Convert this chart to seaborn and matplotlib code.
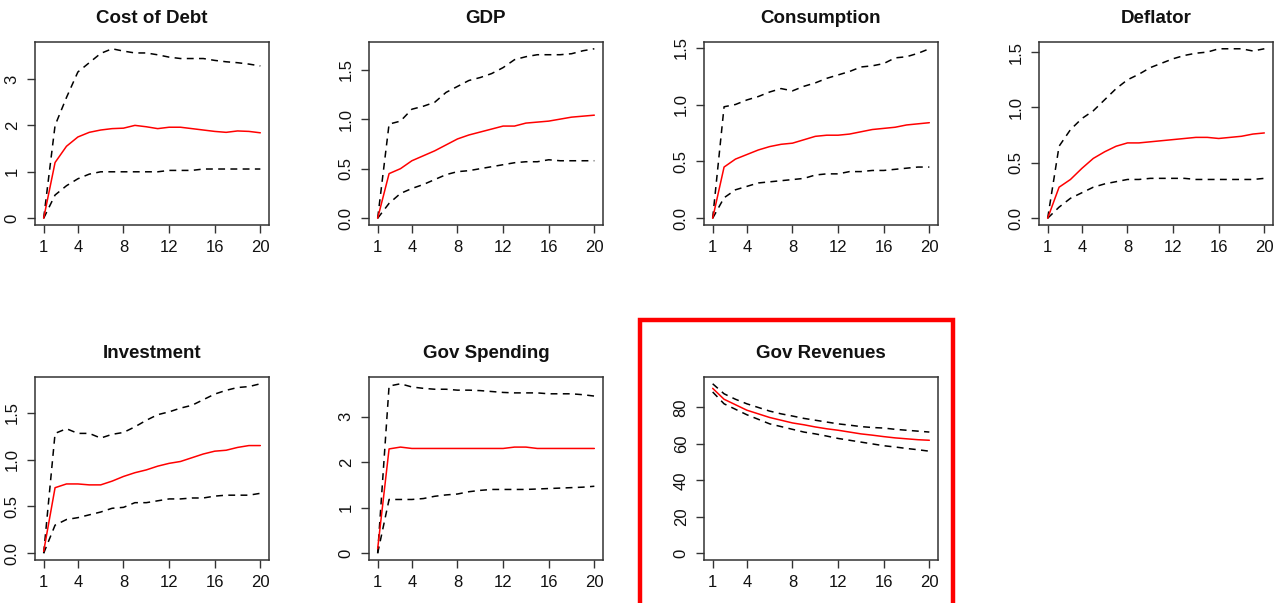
import numpy as np
import pandas as pd
import matplotlib
matplotlib.use("Agg")
import matplotlib.pyplot as plt
from matplotlib.patches import Rectangle
import seaborn as sns

periods = list(range(1, 21))
x_ticks = [1, 4, 8, 12, 16, 20]

titles = ["Cost of Debt", "GDP", "Consumption", "Deflator",
          "Investment", "Gov Spending", "Gov Revenues"]

debt_mid = [0.0, 1.2, 1.55, 1.75, 1.85, 1.9, 1.93, 1.94, 2.0, 1.97, 1.93, 1.96, 1.96, 1.93, 1.9, 1.87, 1.85, 1.88, 1.87, 1.84]
debt_hi = [0.0, 2.0, 2.6, 3.15, 3.35, 3.55, 3.65, 3.6, 3.56, 3.56, 3.52, 3.47, 3.44, 3.44, 3.44, 3.4, 3.37, 3.35, 3.32, 3.28]
debt_lo = [0.0, 0.5, 0.7, 0.85, 0.95, 1.0, 1.0, 1.0, 1.0, 1.0, 1.0, 1.03, 1.03, 1.03, 1.06, 1.06, 1.06, 1.06, 1.06, 1.06]

gdp_mid = [0.0, 0.45, 0.5, 0.58, 0.63, 0.68, 0.74, 0.8, 0.84, 0.87, 0.9, 0.93, 0.93, 0.96, 0.97, 0.98, 1.0, 1.02, 1.03, 1.04]
gdp_hi = [0.0, 0.95, 0.98, 1.1, 1.13, 1.17, 1.27, 1.33, 1.39, 1.42, 1.46, 1.52, 1.6, 1.63, 1.65, 1.65, 1.65, 1.66, 1.69, 1.71]
gdp_lo = [0.0, 0.15, 0.25, 0.3, 0.34, 0.39, 0.44, 0.47, 0.48, 0.5, 0.52, 0.54, 0.56, 0.57, 0.57, 0.59, 0.58, 0.58, 0.58, 0.58]

cons_mid = [0.0, 0.45, 0.52, 0.56, 0.6, 0.63, 0.65, 0.66, 0.69, 0.72, 0.73, 0.73, 0.74, 0.76, 0.78, 0.79, 0.8, 0.82, 0.83, 0.84]
cons_hi = [0.0, 0.98, 1.0, 1.04, 1.07, 1.11, 1.14, 1.12, 1.16, 1.19, 1.23, 1.26, 1.29, 1.33, 1.34, 1.36, 1.41, 1.42, 1.45, 1.49]
cons_lo = [0.0, 0.18, 0.25, 0.28, 0.31, 0.32, 0.33, 0.34, 0.35, 0.38, 0.39, 0.39, 0.41, 0.41, 0.42, 0.42, 0.43, 0.44, 0.45, 0.45]

defl_mid = [0.0, 0.28, 0.35, 0.45, 0.54, 0.6, 0.65, 0.68, 0.68, 0.69, 0.7, 0.71, 0.72, 0.73, 0.73, 0.72, 0.73, 0.74, 0.76, 0.77]
defl_hi = [0.0, 0.65, 0.8, 0.9, 0.97, 1.07, 1.17, 1.25, 1.3, 1.36, 1.4, 1.44, 1.47, 1.49, 1.5, 1.53, 1.53, 1.53, 1.51, 1.53]
defl_lo = [0.0, 0.1, 0.18, 0.23, 0.28, 0.31, 0.33, 0.35, 0.35, 0.36, 0.36, 0.36, 0.36, 0.35, 0.35, 0.35, 0.35, 0.35, 0.35, 0.36]

inv_mid = [0.02, 0.7, 0.74, 0.74, 0.73, 0.73, 0.77, 0.82, 0.86, 0.89, 0.93, 0.96, 0.98, 1.02, 1.06, 1.09, 1.1, 1.13, 1.15, 1.15]
inv_hi = [0.0, 1.28, 1.33, 1.28, 1.28, 1.23, 1.27, 1.29, 1.35, 1.42, 1.48, 1.51, 1.55, 1.58, 1.64, 1.7, 1.74, 1.77, 1.78, 1.81]
inv_lo = [0.0, 0.3, 0.36, 0.38, 0.41, 0.44, 0.48, 0.49, 0.54, 0.54, 0.56, 0.58, 0.58, 0.59, 0.59, 0.61, 0.62, 0.62, 0.62, 0.64]

gsp_mid = [0.1, 2.29, 2.33, 2.3, 2.3, 2.3, 2.3, 2.3, 2.3, 2.3, 2.3, 2.3, 2.33, 2.33, 2.3, 2.3, 2.3, 2.3, 2.3, 2.3]
gsp_hi = [0.0, 3.67, 3.72, 3.65, 3.62, 3.6, 3.6, 3.58, 3.58, 3.57, 3.55, 3.53, 3.52, 3.52, 3.52, 3.5, 3.5, 3.5, 3.48, 3.45]
gsp_lo = [0.0, 1.18, 1.18, 1.18, 1.2, 1.25, 1.28, 1.3, 1.35, 1.38, 1.4, 1.4, 1.4, 1.4, 1.41, 1.42, 1.43, 1.44, 1.45, 1.47]

grev_mid = [90.5, 84.5, 81.5, 78.5, 76.5, 74.5, 73.0, 71.5, 70.5, 69.3, 68.3, 67.5, 66.5, 65.5, 64.8, 64.0, 63.3, 62.8, 62.3, 62.0]
grev_hi = [93.0, 87.5, 84.5, 82.0, 80.0, 78.0, 76.5, 75.3, 74.0, 73.0, 72.0, 71.0, 70.3, 69.5, 69.0, 68.7, 68.0, 67.5, 67.0, 66.5]
grev_lo = [88.5, 82.0, 79.0, 76.0, 73.5, 71.0, 69.5, 68.0, 66.5, 65.5, 64.3, 63.0, 62.0, 61.0, 60.0, 59.0, 58.3, 57.5, 56.8, 56.0]

y_ticks = [[0, 1, 2, 3], [0.0, 0.5, 1.0, 1.5], [0.0, 0.5, 1.0, 1.5], [0.0, 0.5, 1.0, 1.5],
           [0.0, 0.5, 1.0, 1.5], [0, 1, 2, 3], [0, 20, 40, 60, 80]]
y_fmt = ["{:.0f}", "{:.1f}", "{:.1f}", "{:.1f}", "{:.1f}", "{:.0f}", "{:.0f}"]

panels = [
    (debt_mid, debt_hi, debt_lo),
    (gdp_mid, gdp_hi, gdp_lo),
    (cons_mid, cons_hi, cons_lo),
    (defl_mid, defl_hi, defl_lo),
    (inv_mid, inv_hi, inv_lo),
    (gsp_mid, gsp_hi, gsp_lo),
    (grev_mid, grev_hi, grev_lo),
]

sns.set_theme(style="ticks")
plt.rcParams['font.family'] = ['Liberation Sans', 'DejaVu Sans']

W, H = 1284, 603
fig = plt.figure(figsize=(W / 100, H / 100), dpi=100)
fig.patch.set_facecolor("white")

col_left = [35, 369, 704, 1039]
row_top = [42, 377]
ax_w, ax_h = 234, 183

for i, (title, (mid, hi, lo)) in enumerate(zip(titles, panels)):
    r, c = divmod(i, 4)
    ax = fig.add_axes([col_left[c] / W, 1 - (row_top[r] + ax_h) / H, ax_w / W, ax_h / H])
    df = pd.DataFrame({"period": periods, "mid": mid, "hi": hi, "lo": lo})
    sns.lineplot(data=df, x="period", y="hi", ax=ax, color="black", lw=1.1)
    sns.lineplot(data=df, x="period", y="lo", ax=ax, color="black", lw=1.1)
    sns.lineplot(data=df, x="period", y="mid", ax=ax, color="#ff0000", lw=1.1)
    for ln in ax.lines[:2]:
        ln.set_dashes((4.5, 3.5))
    allv = np.concatenate([mid, hi, lo])
    if title == "Gov Revenues":
        allv = np.append(allv, 0)
    lo_v, hi_v = allv.min(), allv.max()
    rng = hi_v - lo_v
    ax.set_ylim(lo_v - 0.04 * rng, hi_v + 0.04 * rng)
    ax.set_xlim(1 - 0.04 * 19, 20 + 0.04 * 19)
    ax.set_xticks(x_ticks)
    ax.set_xticklabels([str(t) for t in x_ticks])
    ax.set_yticks(y_ticks[i])
    ax.set_yticklabels([y_fmt[i].format(t) for t in y_ticks[i]], rotation=90, va="center")
    ax.set_xlabel("")
    ax.set_ylabel("")
    ax.set_title(title, fontsize=13.5, fontweight="bold", pad=14, color="#111111")
    ax.tick_params(axis="both", direction="out", length=6, width=1, labelsize=12,
                   color="#333333", labelcolor="#111111", pad=5)
    for s in ax.spines.values():
        s.set_visible(True)
        s.set_linewidth(1.1)
        s.set_color("#333333")
    ax.set_facecolor("white")

fig.patches.append(Rectangle((640 / W, -0.03), (953 - 640) / W, (H - 320) / H + 0.03,
                             transform=fig.transFigure, fill=False,
                             edgecolor="#ff0000", linewidth=3.2, clip_on=False))

fig.savefig("out.png", dpi=100)
